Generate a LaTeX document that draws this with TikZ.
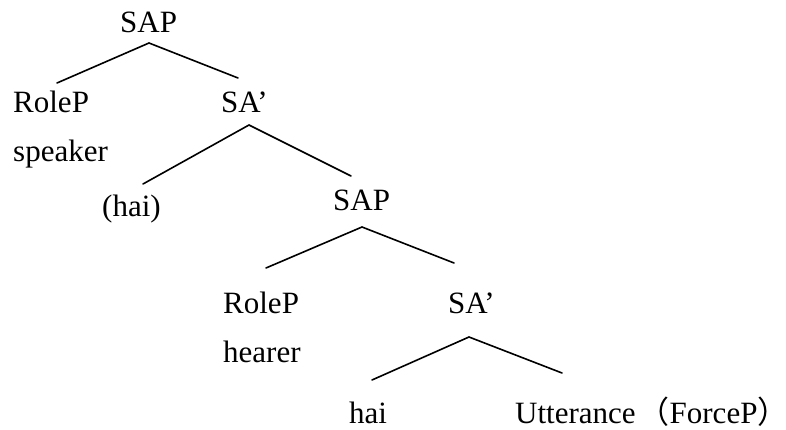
\documentclass[tikz,border=0pt]{standalone}
\usepackage{fontspec}
\setmainfont{Liberation Serif}
\newfontfamily\cjk{Noto Sans CJK SC}
\begin{document}
\begin{tikzpicture}[x=1pt,y=-1pt,
  lbl/.style={anchor=base west, inner sep=0pt, font=\fontsize{31}{36}\selectfont},
  branch/.style={line width=1.6pt, line cap=round}]
\useasboundingbox (0,0) rectangle (786,430);
% labels
\node[lbl] (sap1) at (120,33) {SAP};
\node[lbl] (role1) at (13,113) {RoleP};
\node[lbl] (sa1) at (221,113) {SA’};
\node[lbl] (spk) at (13,162) {speaker};
\node[lbl] (hai1) at (102,217) {(hai)};
\node[lbl] (sap2) at (333,211) {SAP};
\node[lbl] (role2) at (223,313) {RoleP};
\node[lbl] (sa2) at (448,313) {SA’};
\node[lbl] (hear) at (223,362) {hearer};
\node[lbl] (hai2) at (349,423) {hai};
\node[lbl] (utt) at (515,423) {Utterance\hspace{3pt}{\cjk （}ForceP{\cjk\makebox[14pt][l]{）}}};
% branch points
\coordinate (t1) at (149,43);
\coordinate (l1) at (57,83);
\coordinate (r1) at (238,78);
\coordinate (t2) at (249,125);
\coordinate (l2) at (143,184);
\coordinate (r2) at (351,176);
\coordinate (t3) at (362,227);
\coordinate (l3) at (266,268);
\coordinate (r3) at (454,263);
\coordinate (t4) at (469,337);
\coordinate (l4) at (372,380);
\coordinate (r4) at (562,373);
\draw[branch] (l1) -- (t1) -- (r1);
\draw[branch] (l2) -- (t2) -- (r2);
\draw[branch] (l3) -- (t3) -- (r3);
\draw[branch] (l4) -- (t4) -- (r4);
\end{tikzpicture}
\end{document}
